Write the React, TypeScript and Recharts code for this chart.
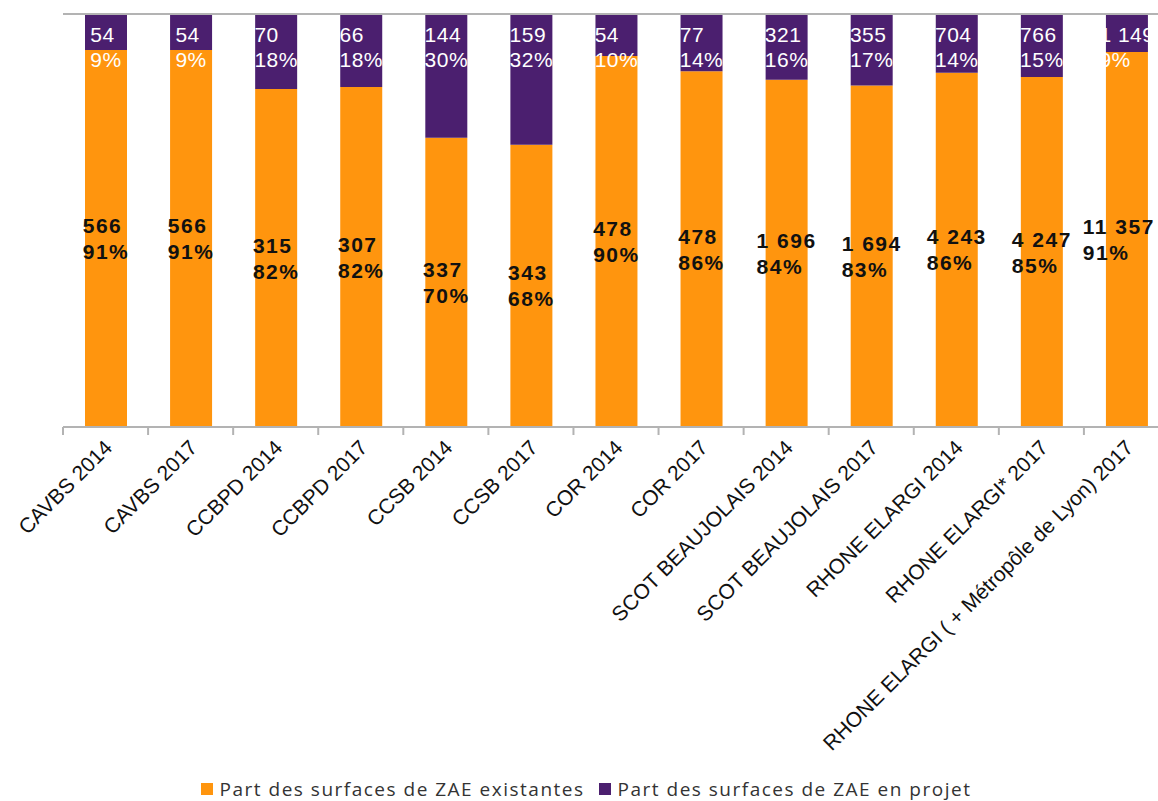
import React from 'react';
import { BarChart, Bar, XAxis, YAxis, Legend, LabelList, ReferenceLine } from 'recharts';

const categories = [
  'CAVBS 2014',
  'CAVBS 2017',
  'CCBPD 2014',
  'CCBPD 2017',
  'CCSB 2014',
  'CCSB 2017',
  'COR 2014',
  'COR 2017',
  'SCOT BEAUJOLAIS 2014',
  'SCOT BEAUJOLAIS 2017',
  'RHONE ELARGI 2014',
  'RHONE ELARGI* 2017',
  'RHONE ELARGI ( + Métropôle de Lyon) 2017',
];
const existantes = [566, 566, 315, 307, 337, 343, 478, 478, 1696, 1694, 4243, 4247, 11357];
const enProjet = [54, 54, 70, 66, 144, 159, 54, 77, 321, 355, 704, 766, 1149];

const ORANGE = '#ff950e';
const PURPLE = '#4b1f6f';
const GRID = '#b3b3b3';

const VIEW_W = 1158;
const CHART_W = 1180;
const CHART_H = 801;
const MARGIN = { top: 14, right: 11, left: 63, bottom: 0 };
const BAND = (CHART_W - MARGIN.left - MARGIN.right) / categories.length;

const data = categories.map((name, i) => ({
  name,
  existantes: existantes[i],
  projet: enProjet[i],
}));

// "1 696" style grouping like the source
const fmt = (v: number) => String(v).replace(/\B(?=(\d{3})+(?!\d))/g, ' ');
const pct = (v: number, i: number) => Math.round((v / (existantes[i] + enProjet[i])) * 100) + '%';

const FS = 21;
const textW = (s: string, ls: number) =>
  s.split('').reduce((w, c) => w + (c === ' ' ? 0.278 : c === '%' ? 0.889 : 0.556) * FS + ls, 0);

const ExistLabel = (props: any) => {
  const { x, y, width, height, index } = props;
  const a = fmt(existantes[index]);
  const b = pct(existantes[index], index);
  const w = Math.max(textW(a, 1.5), textW(b, 1.5));
  // keep the block inside the visible page
  const left = Math.min(x + width / 2 - w / 2, VIEW_W - 2 - w);
  const cy = y + height / 2;
  return (
    <text fontFamily="Liberation Sans, Arial, sans-serif" fontSize={FS} fontWeight="bold" fill="#111" letterSpacing={1.5}>
      <tspan x={left} y={cy - 5.5}>{a}</tspan>
      <tspan x={left} y={cy + 20.5}>{b}</tspan>
    </text>
  );
};

const ProjetLabel = (props: any) => {
  const { x, y, width, index } = props;
  const a = fmt(enProjet[index]);
  const b = pct(enProjet[index], index);
  const left = x + width / 2 - Math.max(textW(a, 0.5), textW(b, 0.5)) / 2;
  return (
    <text fontFamily="Liberation Sans, Arial, sans-serif" fontSize={FS} fill="#fff" letterSpacing={0.5}>
      <tspan x={left} y={y + 27.5}>{a}</tspan>
      <tspan x={left} y={y + 52.5}>{b}</tspan>
    </text>
  );
};

const CategoryTick = (props: any) => {
  const { x, payload } = props;
  const axisY = CHART_H - 24 - 350;
  return (
    <g>
      <line x1={x - BAND / 2} x2={x - BAND / 2} y1={axisY} y2={axisY + 8} stroke={GRID} strokeWidth={2} />
      <text
        x={x + 8}
        y={axisY + 22}
        transform={`rotate(-45 ${x + 8} ${axisY + 22})`}
        textAnchor="end"
        fontFamily="Liberation Sans, Arial, sans-serif"
        fontSize={21}
        fill="#111"
      >
        {payload.value}
      </text>
    </g>
  );
};

const LegendContent = () => (
  <div
    style={{
      display: 'flex',
      justifyContent: 'center',
      alignItems: 'center',
      height: 24,
      fontFamily: 'Open Sans, sans-serif',
      fontSize: 19,
      letterSpacing: 1.5,
      color: '#333',
      paddingLeft: 28,
    }}
  >
    {[
      { label: 'Part des surfaces de ZAE existantes', color: ORANGE },
      { label: 'Part des surfaces de ZAE en projet', color: PURPLE },
    ].map((it) => (
      <span key={it.label} style={{ display: 'flex', alignItems: 'center', marginRight: 14 }}>
        <span style={{ width: 12, height: 12, background: it.color, marginRight: 7, display: 'inline-block' }} />
        {it.label}
      </span>
    ))}
  </div>
);

export default function App() {
  return (
    <div style={{ position: 'fixed', left: 0, top: 0, width: VIEW_W, height: 801, overflow: 'hidden', background: '#fff' }}>
      <BarChart width={CHART_W} height={CHART_H} data={data} stackOffset="expand" margin={MARGIN} barSize={42}>
        <XAxis
          dataKey="name"
          interval={0}
          height={350}
          tickLine={false}
          axisLine={{ stroke: GRID, strokeWidth: 2 }}
          tick={<CategoryTick />}
        />
        <YAxis width={0} tick={false} tickLine={false} axisLine={{ stroke: GRID, strokeWidth: 2 }} domain={[0, 1]} />
        <ReferenceLine y={1} stroke={GRID} strokeWidth={2} />
        <Legend verticalAlign="bottom" height={24} content={<LegendContent />} wrapperStyle={{ left: 0, width: VIEW_W }} />
        <Bar dataKey="existantes" stackId="a" fill={ORANGE} isAnimationActive={false}>
          <LabelList content={<ExistLabel />} />
        </Bar>
        <Bar dataKey="projet" stackId="a" fill={PURPLE} isAnimationActive={false}>
          <LabelList content={<ProjetLabel />} />
        </Bar>
      </BarChart>
    </div>
  );
}
